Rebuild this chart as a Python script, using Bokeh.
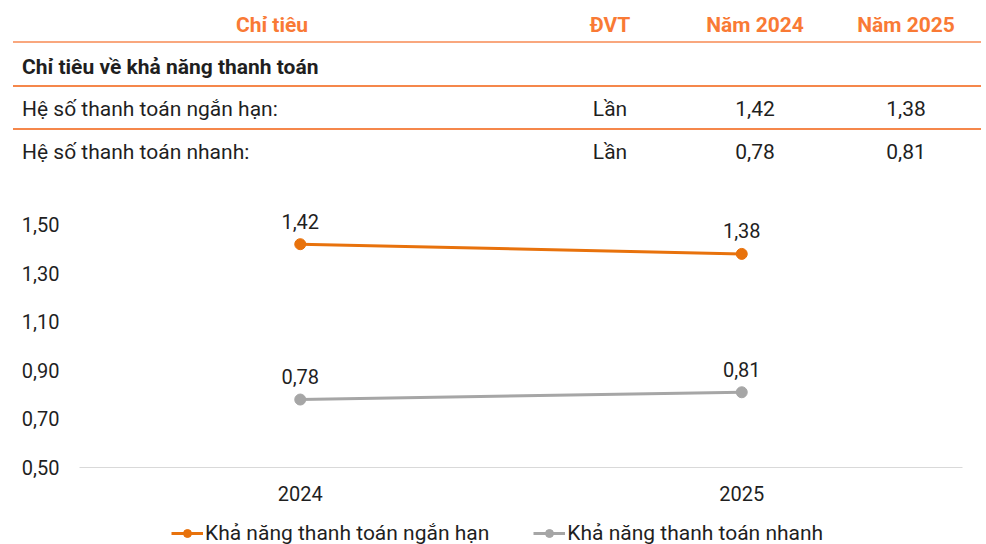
from bokeh.plotting import figure
from bokeh.models import (Range1d, FactorRange, Legend, LegendItem,
                          FixedTicker, CustomJSTickFormatter, Div)
from bokeh.layouts import column
from bokeh.embed import file_html
from bokeh.resources import INLINE

# ---------------- data ----------------
header_labels = ["Chỉ tiêu", "ĐVT", "Năm 2024", "Năm 2025"]
section_title = "Chỉ tiêu về khả năng thanh toán"
row_labels = ["Hệ số thanh toán ngắn hạn:", "Hệ số thanh toán nhanh:"]
row_units = ["Lần", "Lần"]
years = ["2024", "2025"]
short_term = [1.42, 1.38]
quick = [0.78, 0.81]
series_names = ["Khả năng thanh toán ngắn hạn", "Khả năng thanh toán nhanh"]
y_ticks = [0.5, 0.7, 0.9, 1.1, 1.3, 1.5]


def vn(v):
    return f"{v:.2f}".replace(".", ",")


# ---------------- styles ----------------
TXT = "#1f1f1f"
HEAD_ORANGE = "#F97A35"
LINE_ORANGE = "#E8720C"
LINE_GRAY = "#A6A6A6"
W = 986
TH = 180          # table block
CH = 327          # chart block
LH = 544 - TH - CH  # legend block

# ---------------- table (HTML built from the data lists) ----------------
col_x = [272, 610, 755, 906]
left_x = 22
row_y = [25, 67, 109, 152]
rules = [(42, 2, "#F9A77E"), (86, 1.5, "#F5874B"), (129, 1.5, "#F5874B")]


def cell(x, y, txt, align="center", bold=False, color=TXT):
    tx = "-50%" if align == "center" else "0"
    return (f'<div style="position:absolute;left:{x}px;top:{y}px;'
            f'transform:translate({tx},-50%);white-space:nowrap;'
            f'font-family:Roboto;font-size:21px;line-height:24px;'
            f'font-weight:{"700" if bold else "400"};color:{color};">{txt}</div>')


parts = []
for y, h, c in rules:
    parts.append(f'<div style="position:absolute;left:13px;top:{y - h / 2}px;'
                 f'width:968px;height:{h}px;background:{c};"></div>')
for x, lab in zip(col_x, header_labels):
    parts.append(cell(x, row_y[0], lab, bold=True, color=HEAD_ORANGE))
parts.append(cell(left_x, row_y[1], section_title, align="left", bold=True))
for i, (lab, unit) in enumerate(zip(row_labels, row_units)):
    y = row_y[2 + i]
    parts.append(cell(left_x, y, lab, align="left"))
    parts.append(cell(col_x[1], y, unit))
    parts.append(cell(col_x[2], y, vn([short_term, quick][i][0])))
    parts.append(cell(col_x[3], y, vn([short_term, quick][i][1])))

html = (f'<div style="position:relative;width:{W}px;height:{TH}px;">'
        + "".join(parts) + "</div>")
table = Div(text=html, width=W, height=TH, margin=0)

# ---------------- chart ----------------
p = figure(width=W, height=CH, x_range=FactorRange(*years, range_padding=0),
           y_range=Range1d(0.5, 1.6), output_backend="svg", toolbar_location=None,
           min_border_left=79, min_border_right=24, min_border_top=20,
           min_border_bottom=40)
p.grid.visible = False
p.outline_line_color = None

p.yaxis.ticker = FixedTicker(ticks=y_ticks)
p.yaxis.formatter = CustomJSTickFormatter(code="return tick.toFixed(2).replace('.', ',')")
p.yaxis.axis_line_color = None
p.yaxis.major_label_standoff = 20

p.xaxis.axis_line_color = "#D9D9D9"
p.xaxis.axis_line_width = 1
p.xaxis.major_label_standoff = 18

for ax in (p.xaxis, p.yaxis):
    ax.major_tick_line_color = None
    ax.minor_tick_line_color = None
    ax.major_tick_out = 0
    ax.major_tick_in = 0
    ax.minor_tick_out = 0
    ax.major_label_text_font = "Roboto"
    ax.major_label_text_font_size = "20px"
    ax.major_label_text_color = TXT

p.line(x=years, y=short_term, line_color=LINE_ORANGE, line_width=3)
p.scatter(x=years, y=short_term, size=11, fill_color=LINE_ORANGE, line_color=LINE_ORANGE)
p.line(x=years, y=quick, line_color=LINE_GRAY, line_width=3)
p.scatter(x=years, y=quick, size=11, fill_color=LINE_GRAY, line_color=LINE_GRAY)

for series in (short_term, quick):
    p.text(x=years, y=series, text=[vn(v) for v in series], y_offset=-23,
           text_align="center", text_baseline="middle", text_font={"value": "Roboto"},
           text_font_size="20px", text_color=TXT)

# ---------------- legend strip ----------------
# Same series, drawn in a strip whose y-range lies outside the data so that
# only the legend (keyed to these renderers) is visible.
lg = figure(width=W, height=LH, x_range=FactorRange(*years, range_padding=0),
            y_range=Range1d(-2, -1),
            output_backend="svg", toolbar_location=None,
            min_border_left=79, min_border_right=24, min_border_top=0,
            min_border_bottom=0, x_axis_location=None, y_axis_location=None)
lg.grid.visible = False
lg.outline_line_color = None

items = []
for name, series, col in zip(series_names, (short_term, quick), (LINE_ORANGE, LINE_GRAY)):
    lr = lg.line(x=years, y=series, line_color=col, line_width=3)
    sr = lg.scatter(x=years, y=series, size=11, fill_color=col, line_color=col)
    items.append(LegendItem(label=name, renderers=[lr, sr]))

legend = Legend(items=items, orientation="horizontal", location=(92, -1),
                glyph_width=32, glyph_height=20, label_standoff=2, spacing=44,
                padding=0, margin=0, border_line_color=None,
                background_fill_alpha=0, label_text_font="Roboto",
                label_text_font_size="21px", label_text_color=TXT)
lg.add_layout(legend)

layout = column(table, p, lg, spacing=0)
open("out.html", "w").write(file_html(layout, INLINE))
